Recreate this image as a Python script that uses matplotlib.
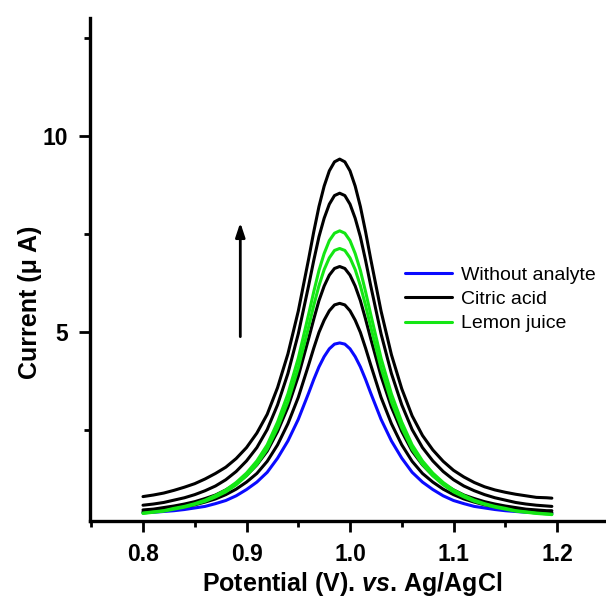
import matplotlib
matplotlib.use("Agg")
import matplotlib.pyplot as plt
from matplotlib.ticker import MultipleLocator

# Differential pulse voltammograms: potential (V vs. Ag/AgCl) and current (uA)
potential = [0.80, 0.81, 0.82, 0.83, 0.84, 0.85, 0.86, 0.87, 0.88, 0.89, 0.90,
             0.91, 0.92, 0.93, 0.94, 0.95, 0.96,
             0.965, 0.97, 0.975, 0.98, 0.985, 0.99, 0.995, 1.00, 1.005, 1.01, 1.015,
             1.02, 1.03, 1.04, 1.05, 1.06, 1.07, 1.08, 1.09, 1.10, 1.11, 1.12,
             1.13, 1.14, 1.15, 1.16, 1.17, 1.18, 1.19, 1.195]

without_analyte = [0.39, 0.40, 0.42, 0.44, 0.47, 0.51, 0.55, 0.62, 0.70, 0.82, 0.98,
                   1.17, 1.42, 1.78, 2.22, 2.77, 3.44,
                   3.79, 4.11, 4.37, 4.57, 4.69, 4.72, 4.69, 4.57, 4.37, 4.11, 3.79,
                   3.44, 2.77, 2.22, 1.78, 1.42, 1.17, 0.98, 0.82, 0.70, 0.62, 0.55,
                   0.51, 0.47, 0.44, 0.42, 0.40, 0.39, 0.38, 0.37]

citric_acid_1 = [0.41, 0.43, 0.46, 0.50, 0.54, 0.59, 0.66, 0.74, 0.85, 0.99, 1.17,
                 1.39, 1.70, 2.12, 2.66, 3.33, 4.16,
                 4.59, 4.99, 5.30, 5.54, 5.69, 5.73, 5.69, 5.54, 5.30, 4.99, 4.59,
                 4.16, 3.33, 2.66, 2.12, 1.70, 1.39, 1.17, 0.99, 0.85, 0.74, 0.66,
                 0.59, 0.54, 0.50, 0.46, 0.43, 0.41, 0.39, 0.39]
citric_acid_2 = [0.46, 0.48, 0.52, 0.56, 0.61, 0.67, 0.75, 0.84, 0.97, 1.13, 1.34,
                 1.61, 1.96, 2.46, 3.08, 3.87, 4.83,
                 5.33, 5.80, 6.17, 6.45, 6.62, 6.67, 6.62, 6.45, 6.17, 5.80, 5.33,
                 4.83, 3.87, 3.08, 2.46, 1.96, 1.61, 1.34, 1.13, 0.97, 0.84, 0.75,
                 0.67, 0.61, 0.56, 0.52, 0.48, 0.46, 0.44, 0.44]
citric_acid_3 = [0.58, 0.61, 0.65, 0.71, 0.77, 0.85, 0.95, 1.07, 1.23, 1.44, 1.71,
                 2.05, 2.51, 3.14, 3.94, 4.95, 6.18,
                 6.83, 7.43, 7.90, 8.26, 8.48, 8.54, 8.48, 8.26, 7.90, 7.43, 6.83,
                 6.18, 4.95, 3.94, 3.14, 2.51, 2.05, 1.71, 1.44, 1.23, 1.07, 0.95,
                 0.85, 0.77, 0.71, 0.65, 0.61, 0.58, 0.56, 0.55]
citric_acid_4 = [0.80, 0.84, 0.89, 0.96, 1.04, 1.13, 1.25, 1.39, 1.55, 1.77, 2.05,
                 2.42, 2.90, 3.58, 4.44, 5.53, 6.86,
                 7.56, 8.20, 8.72, 9.11, 9.34, 9.41, 9.34, 9.11, 8.72, 8.20, 7.56,
                 6.86, 5.53, 4.42, 3.55, 2.86, 2.36, 1.99, 1.70, 1.47, 1.30, 1.16,
                 1.05, 0.97, 0.91, 0.86, 0.82, 0.78, 0.77, 0.76]

lemon_juice_1 = [0.37, 0.40, 0.43, 0.48, 0.53, 0.60, 0.68, 0.79, 0.92, 1.10, 1.33,
                 1.62, 2.01, 2.55, 3.22, 4.08, 5.13,
                 5.68, 6.18, 6.59, 6.89, 7.08, 7.13, 7.08, 6.89, 6.59, 6.18, 5.68,
                 5.13, 4.08, 3.22, 2.55, 2.01, 1.62, 1.33, 1.10, 0.92, 0.79, 0.68,
                 0.60, 0.53, 0.48, 0.43, 0.40, 0.37, 0.35, 0.34]
lemon_juice_2 = [0.38, 0.41, 0.44, 0.50, 0.55, 0.62, 0.71, 0.83, 0.97, 1.16, 1.40,
                 1.71, 2.12, 2.70, 3.42, 4.33, 5.45,
                 6.03, 6.57, 7.00, 7.33, 7.52, 7.58, 7.52, 7.33, 7.00, 6.57, 6.03,
                 5.45, 4.33, 3.42, 2.70, 2.12, 1.71, 1.40, 1.16, 0.97, 0.83, 0.71,
                 0.62, 0.55, 0.50, 0.44, 0.41, 0.38, 0.36, 0.35]

citric_acid = [citric_acid_1, citric_acid_2, citric_acid_3, citric_acid_4]
lemon_juice = [lemon_juice_1, lemon_juice_2]

BLUE = "#0a0aff"
BLACK = "#000000"
GREEN = "#14e614"

plt.rcParams["font.family"] = ["Liberation Sans", "DejaVu Sans"]
plt.rcParams["font.weight"] = "bold"
plt.rcParams["mathtext.fontset"] = "custom"
plt.rcParams["mathtext.rm"] = "Liberation Sans:bold"
plt.rcParams["mathtext.bf"] = "Liberation Sans:bold"
plt.rcParams["mathtext.it"] = "Liberation Sans:italic:bold"

fig = plt.figure(figsize=(6.06, 5.97), dpi=100)
ax = fig.add_axes([90 / 606, 76.5 / 597, 516 / 606, 502.5 / 597])

lw = 2.2
line_style = dict(lw=lw, solid_joinstyle="round", solid_capstyle="round")
ax.plot(potential, without_analyte, color=BLUE, label="Without analyte",
        **line_style)
for i, ys in enumerate(citric_acid):
    ax.plot(potential, ys, color=BLACK,
            label="Citric acid" if i == 0 else "_nolegend_", **line_style)
for i, ys in enumerate(lemon_juice):
    ax.plot(potential, ys, color=GREEN,
            label="Lemon juice" if i == 0 else "_nolegend_", **line_style)

ax.set_xlim(0.7488, 1.2473)
ax.set_ylim(0.19, 13.01)

for side in ("top", "right"):
    ax.spines[side].set_visible(False)
for side in ("left", "bottom"):
    ax.spines[side].set_linewidth(2.4)

ax.xaxis.set_major_locator(MultipleLocator(0.1))
ax.xaxis.set_minor_locator(MultipleLocator(0.05))
ax.yaxis.set_major_locator(MultipleLocator(5))
ax.yaxis.set_minor_locator(MultipleLocator(2.5))
ax.tick_params(which="major", direction="out", length=8, width=2,
               labelsize=16.5, pad=8)
ax.tick_params(which="minor", direction="out", length=4.5, width=2)

# increasing-concentration arrow
ax.annotate("", xy=(0.894, 7.79), xytext=(0.894, 4.88),
            arrowprops=dict(arrowstyle="-|>,head_length=0.6,head_width=0.2",
                            color=BLACK, lw=2, mutation_scale=14,
                            shrinkA=0, shrinkB=0))

ax.set_xlabel(r"Potential (V). $\mathit{vs}$. Ag/AgCl", fontsize=18,
              fontweight="bold")
ax.xaxis.label.set_va("baseline")
ax.xaxis.set_label_coords(0.508, -0.1403)
ax.set_ylabel("Current (\u03bc A)", fontsize=18, fontweight="bold")
ax.yaxis.set_label_coords(-0.093, 0.435)

ax.legend(loc="upper left", bbox_to_anchor=(405 / 606, 1 - 266 / 597),
          bbox_transform=fig.transFigure, frameon=False,
          prop={"size": 14, "weight": "normal"}, handlelength=2.4,
          handletextpad=0.5, labelspacing=0.35, borderpad=0, borderaxespad=0)

fig.savefig("out.png", dpi=100)
